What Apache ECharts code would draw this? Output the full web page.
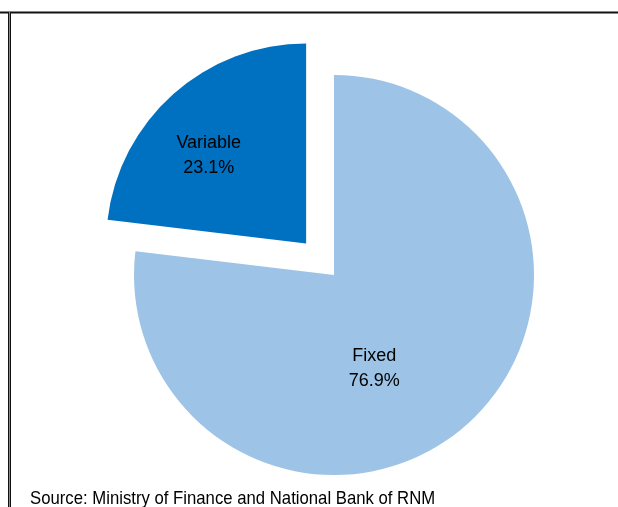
<!DOCTYPE html>
<html>
<head>
<meta charset="utf-8">
<script src="https://cdn.jsdelivr.net/npm/echarts@6/dist/echarts.min.js"></script>
<style>
  html, body { margin: 0; padding: 0; background: #fff; }
  #chart { width: 618px; height: 507px; }
</style>
</head>
<body>
<div id="chart"></div>
<script>
// shares of the debt by interest rate type (%)
const categories = ['Fixed', 'Variable']
const shares = [76.9, 23.1]
const colors = ['#9DC3E6', '#0070C0']
const sourceText = 'Source: Ministry of Finance and National Bank of RNM'

const chart = echarts.init(document.getElementById('chart'))

// label nudges, so the text sits where the original has it
const labelNudges = [{ dx: -28, dy: 16 }, { dx: -29, dy: -11 }]

const option = {
  backgroundColor: '#fff',
  animation: false,
  graphic: [
    // frame lines
    { type: 'line', shape: { x1: 0, y1: 12.5, x2: 618, y2: 12.5 }, style: { stroke: '#111', lineWidth: 2 } },
    { type: 'line', shape: { x1: 8.5, y1: 12, x2: 8.5, y2: 507 }, style: { stroke: '#111', lineWidth: 1 } },
    { type: 'line', shape: { x1: 9.5, y1: 12, x2: 9.5, y2: 507 }, style: { stroke: '#888', lineWidth: 1 } },
    { type: 'line', shape: { x1: 10.5, y1: 12, x2: 10.5, y2: 507 }, style: { stroke: '#111', lineWidth: 1 } },
    {
      type: 'text',
      x: 30,
      y: 489,
      scaleX: 0.88,
      style: {
        text: sourceText,
        font: '19px "Liberation Sans", Arial, sans-serif',
        verticalAlign: 'top',
        fill: '#000'
      }
    }
  ],
  series: [
    {
      type: 'pie',
      center: [334, 275],
      radius: 200,
      startAngle: 90,
      clockwise: true,
      selectedMode: 'single',
      selectedOffset: 42,
      emphasis: { disabled: true },
      label: {
        show: true,
        position: 'inside',
        formatter: p => p.name + '\n' + p.value.toFixed(1) + '%',
        fontFamily: '"Liberation Sans", Arial, sans-serif',
        fontSize: 18,
        lineHeight: 25,
        color: '#000'
      },
      labelLine: { show: false },
      labelLayout: p => labelNudges[p.dataIndex],
      data: categories.map((name, i) => ({
        name: name,
        value: shares[i],
        selected: name === 'Variable',
        itemStyle: { color: colors[i] }
      }))
    }
  ]
}

chart.setOption(option)
</script>
</body>
</html>
